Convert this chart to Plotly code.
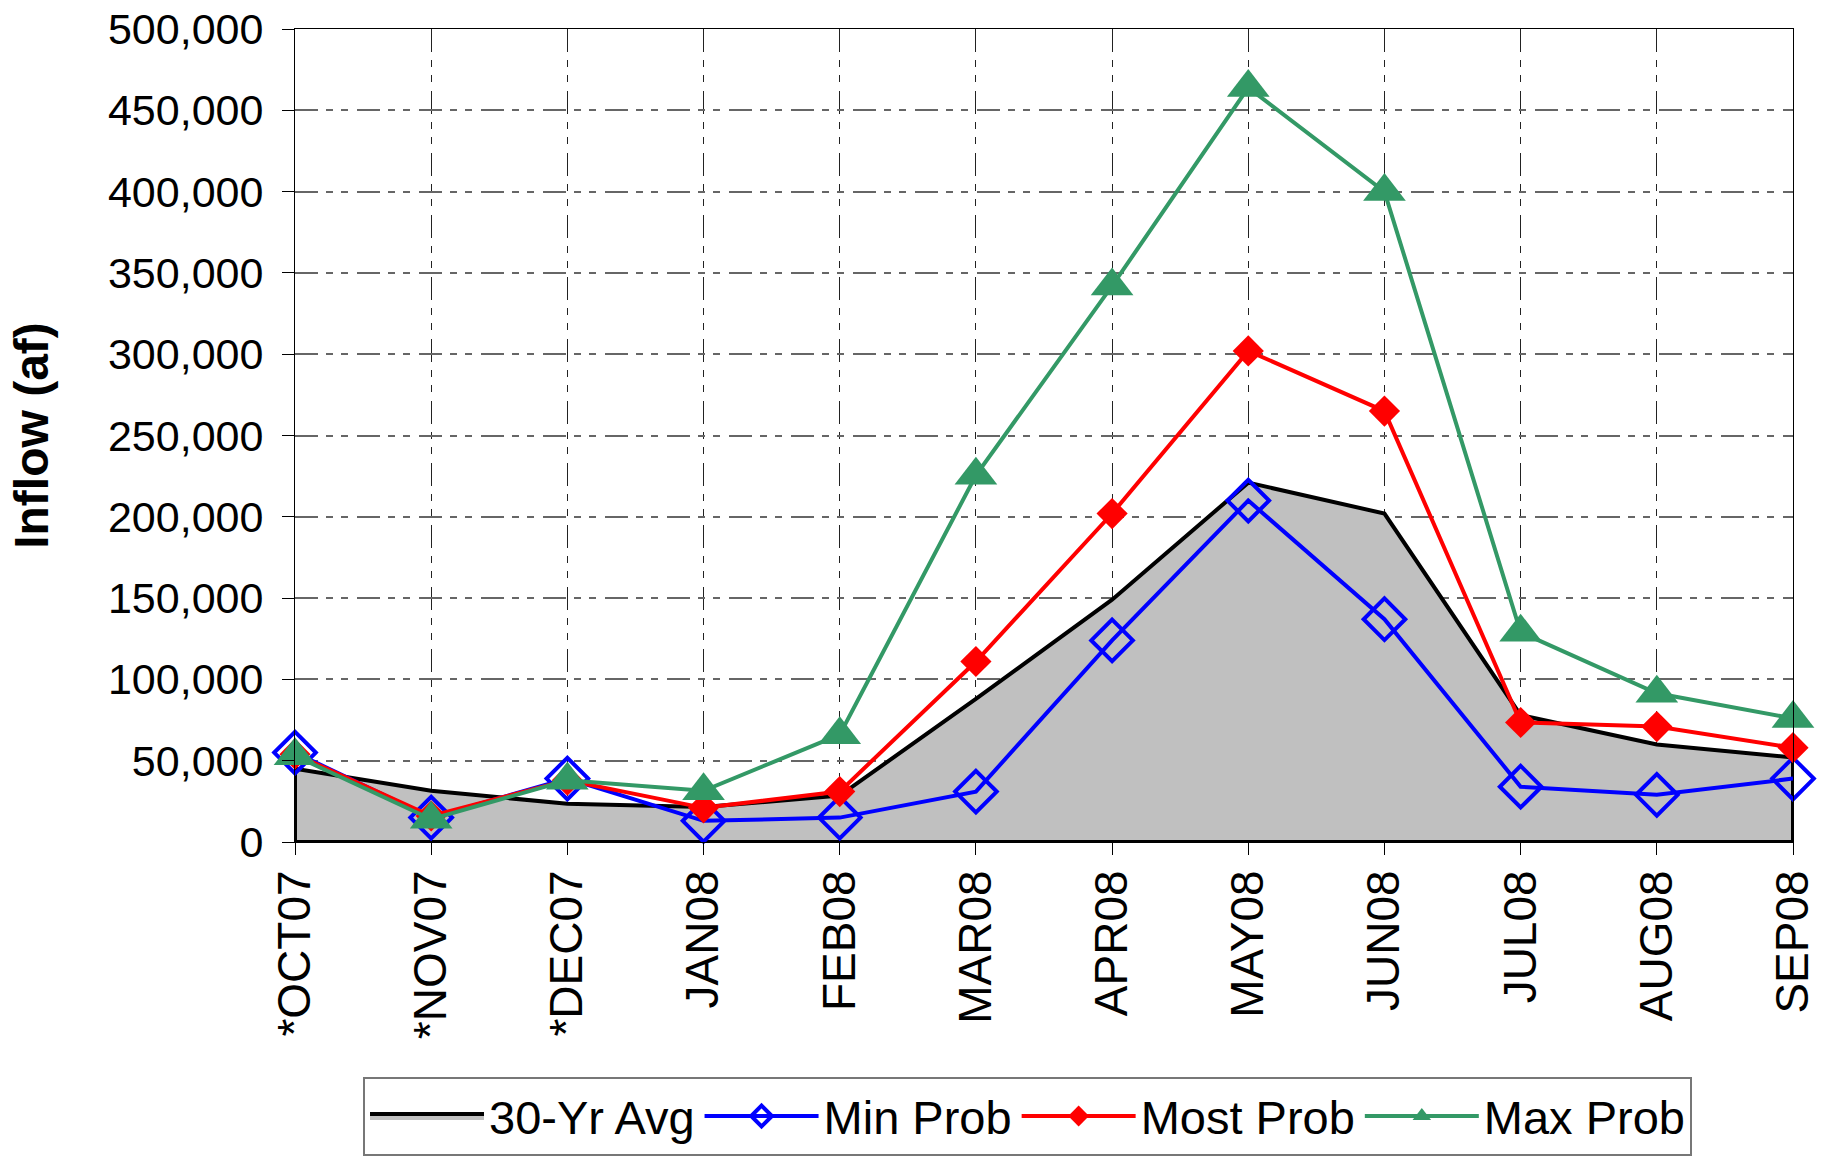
import plotly.graph_objects as go

meses = ["*OCT07", "*NOV07", "*DEC07", "JAN08", "FEB08", "MAR08",
         "APR08", "MAY08", "JUN08", "JUL08", "AUG08", "SEP08"]

media_30 = [45000, 31500, 23500, 21500, 28500, 88000,
            149000, 221000, 202000, 78000, 60000, 52000]
min_prob = [55000, 15000, 39000, 13000, 15000, 31000,
            124000, 210000, 137000, 34000, 29000, 39000]
most_prob = [54000, 16000, 38000, 21000, 31000, 111000,
             202000, 302000, 265000, 73500, 71000, 58000]
max_prob = [53000, 14000, 38000, 31500, 66000, 225500,
            342000, 464000, 400000, 129000, 91500, 76000]

y_ticks = list(range(0, 500001, 50000))

GRID_DASH = "23px,8px,7px,8px,7px,9px"
FONTE = "Liberation Sans, Arial"

fig = go.Figure()

# area fechada (contorno preto em volta, como no Excel)
fig.add_trace(go.Scatter(
    x=meses + [meses[-1], meses[0], meses[0]],
    y=media_30 + [0, 0, media_30[0]],
    name="30-Yr Avg",
    mode="lines",
    fill="toself",
    fillcolor="#C0C0C0",
    line=dict(color="black", width=4),
    hoverinfo="skip",
))

fig.add_trace(go.Scatter(
    x=meses,
    y=min_prob,
    name="Min Prob",
    mode="lines+markers",
    line=dict(color="#0000FF", width=4),
    marker=dict(symbol="diamond-open", size=32, color="#0000FF",
                line=dict(color="#0000FF", width=4)),
    cliponaxis=False,
))

fig.add_trace(go.Scatter(
    x=meses,
    y=most_prob,
    name="Most Prob",
    mode="lines+markers",
    line=dict(color="#FF0000", width=4),
    marker=dict(symbol="diamond", size=24, color="#FF0000"),
    cliponaxis=False,
))

fig.add_trace(go.Scatter(
    x=meses,
    y=max_prob,
    name="Max Prob",
    mode="lines+markers",
    line=dict(color="#339966", width=4),
    marker=dict(symbol="triangle-up", size=37, color="#339966"),
    cliponaxis=False,
))

fig.update_xaxes(
    type="category",
    range=[0, len(meses) - 1],
    tickangle=-90,
    tickfont=dict(family=FONTE, size=46, color="black"),
    ticks="outside",
    ticklen=12,
    tickcolor="black",
    showline=True,
    linecolor="black",
    linewidth=1,
    mirror=True,
    showgrid=True,
    gridcolor="#222222",
    gridwidth=1,
    griddash=GRID_DASH,
    ticklabelstandoff=-3,
)

fig.update_yaxes(
    range=[0, 500000],
    tickvals=y_ticks,
    tickformat=",",
    tickfont=dict(family=FONTE, size=43, color="black"),
    ticks="outside",
    ticklen=12,
    tickcolor="black",
    showline=True,
    linecolor="black",
    linewidth=1,
    mirror=True,
    showgrid=True,
    gridcolor="#666666",
    gridwidth=1.5,
    griddash=GRID_DASH,
    zeroline=False,
    ticklabelstandoff=10,
    ticklabeloverflow="allow",
    title=dict(
        text="<b>Inflow (af)</b>",
        font=dict(family=FONTE, size=48, color="black"),
        standoff=44,
    ),
)

fig.update_layout(
    width=1826,
    height=1167,
    autosize=False,
    paper_bgcolor="white",
    plot_bgcolor="white",
    margin=dict(l=295, r=33, t=29, b=325, autoexpand=False),
    showlegend=True,
    legend=dict(
        orientation="h",
        x=0.0454,
        y=-0.289,
        xanchor="left",
        yanchor="top",
        font=dict(family=FONTE, size=47, color="black"),
        bgcolor="white",
        bordercolor="#777777",
        borderwidth=2,
        itemwidth=114,
        traceorder="normal",
    ),
)

# tira a margem padrao do body pra figura ocupar a janela toda
fig.write_html(
    "out.html",
    config={"displayModeBar": False},
    post_script="document.body.style.margin = '0';",
)
